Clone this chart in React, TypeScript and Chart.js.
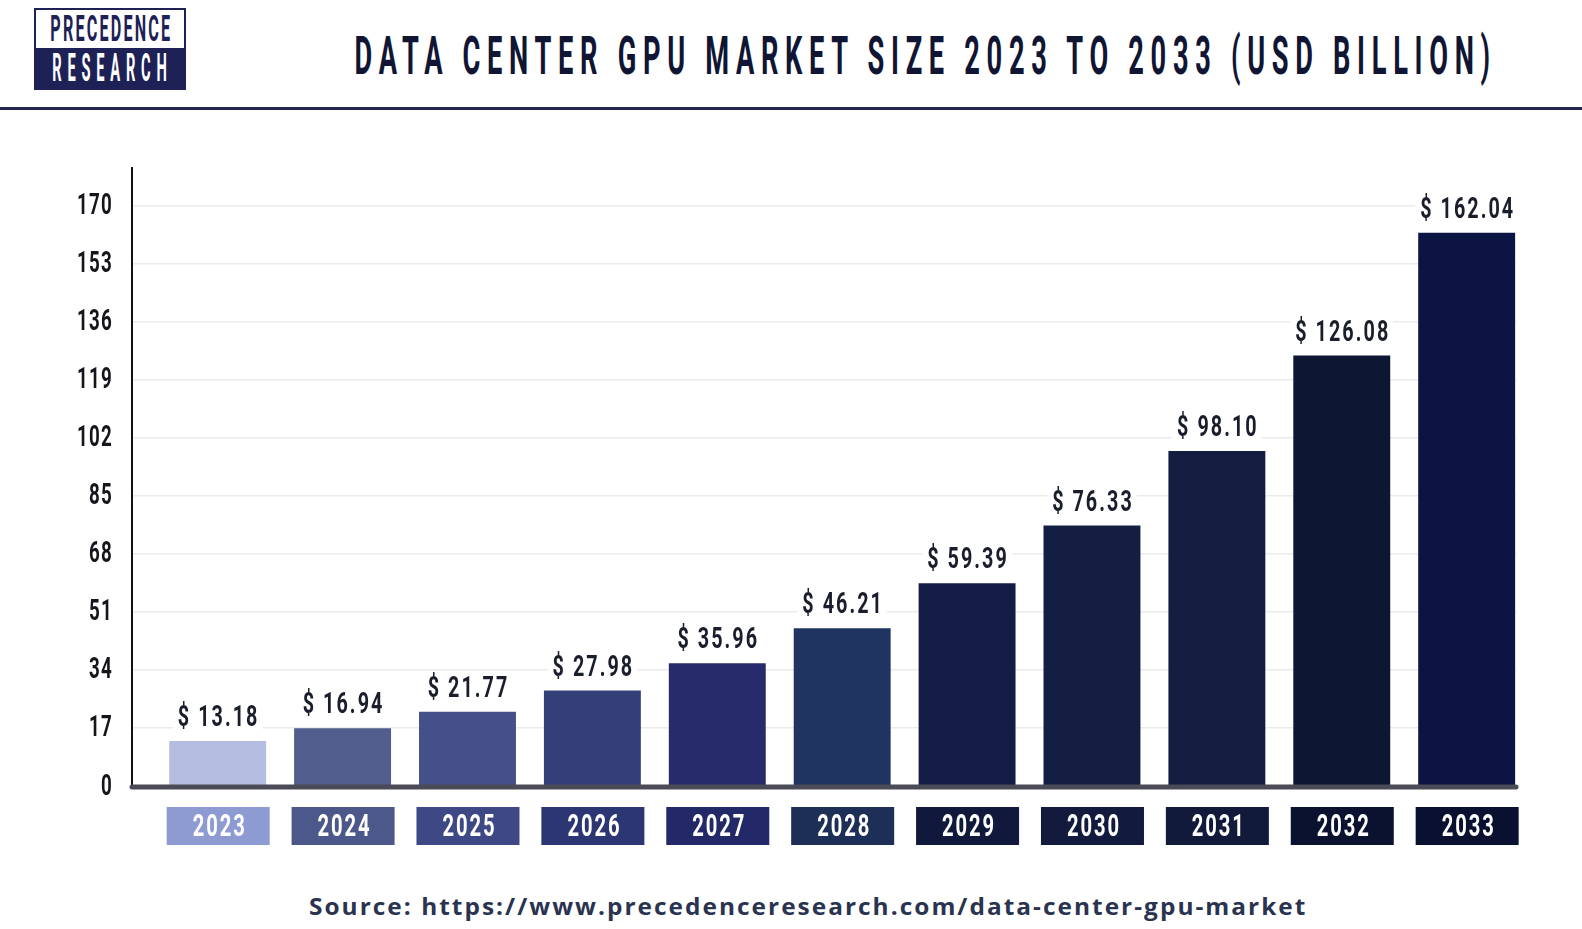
import { useEffect, useLayoutEffect, useRef } from 'react';
import { Chart, registerables } from 'chart.js';

Chart.register(...registerables);

const years = ['2023', '2024', '2025', '2026', '2027', '2028', '2029', '2030', '2031', '2032', '2033'];
const marketSize = [13.18, 16.94, 21.77, 27.98, 35.96, 46.21, 59.39, 76.33, 98.1, 126.08, 162.04];
const yTicks = [0, 17, 34, 51, 68, 85, 102, 119, 136, 153, 170];

const barColors = ['#b5bee0', '#505d8d', '#454f8a', '#343f7a', '#272a6b', '#1f3460', '#131c45', '#141e42', '#131d40', '#0d1633', '#0b1442'];
const boxColors = ['#8e9bd2', '#4c5889', '#3d4885', '#2c3673', '#232869', '#1d2f57', '#10193c', '#121b3e', '#121a3b', '#0b1230', '#0a1130'];

const FONT = 'Roboto, "Liberation Sans", sans-serif';

// draws text squeezed horizontally, standing in for the condensed face of the original
function squeezed(ctx: CanvasRenderingContext2D, text: string, x: number, y: number, scale: number) {
  ctx.save();
  ctx.translate(x, y);
  ctx.scale(scale, 1);
  ctx.fillText(text, 0, 0);
  ctx.restore();
}

const labelsPlugin = {
  id: 'labelsPlugin',
  afterDatasetsDraw(chart: any) {
    const { ctx, chartArea, scales } = chart;
    ctx.save();
    ctx.textBaseline = 'middle';

    // y tick labels
    ctx.font = `bold 30px ${FONT}`;
    ctx.letterSpacing = '2px';
    const sy = 36 / ctx.measureText('170').width;
    ctx.fillStyle = '#15151c';
    ctx.textAlign = 'right';
    scales.y.ticks.forEach((t: any) => {
      squeezed(ctx, String(t.value), chartArea.left - 19, scales.y.getPixelForValue(t.value) + 1, sy);
    });
    ctx.textAlign = 'center';

    // baseline
    ctx.strokeStyle = '#4a4b56';
    ctx.lineWidth = 5;
    ctx.lineCap = 'round';
    ctx.beginPath();
    ctx.moveTo(chartArea.left, chartArea.bottom + 1);
    ctx.lineTo(chartArea.right, chartArea.bottom + 1);
    ctx.stroke();

    // value labels
    const meta = chart.getDatasetMeta(0);
    ctx.font = `bold 29px ${FONT}`;
    ctx.letterSpacing = '3px';
    const sv = 95 / ctx.measureText('$ 162.04').width;
    meta.data.forEach((bar: any, i: number) => {
      const text = '$ ' + marketSize[i].toFixed(2);
      const w = ctx.measureText(text).width * sv;
      const y = bar.y - 23;
      ctx.fillStyle = '#ffffff';
      ctx.fillRect(bar.x - w / 2 - 4, y - 15, w + 8, 30);
      ctx.fillStyle = '#1a1e2c';
      squeezed(ctx, text, bar.x + 1, y + 1, sv);
    });

    // year boxes
    ctx.font = `bold 32px ${FONT}`;
    ctx.letterSpacing = '3px';
    const sx = 54 / ctx.measureText('2023').width;
    const top = chartArea.bottom + 21;
    years.forEach((yr, i) => {
      const cx = scales.x.getPixelForValue(i);
      ctx.fillStyle = boxColors[i];
      ctx.fillRect(cx - 51, top, 103, 38);
      ctx.fillStyle = '#ffffff';
      squeezed(ctx, yr, cx + 2, top + 21, sx);
    });
    ctx.restore();
  },
};

function BarChart() {
  const canvasRef = useRef<HTMLCanvasElement>(null);
  const chartRef = useRef<Chart | null>(null);

  useEffect(() => {
    if (!canvasRef.current) return;
    if (chartRef.current) chartRef.current.destroy();
    const ctx = canvasRef.current.getContext('2d');
    if (!ctx) return;

    chartRef.current = new Chart(ctx, {
      type: 'bar',
      data: {
        labels: years,
        datasets: [
          {
            data: marketSize.map((v, i) => ({ x: i, y: v })),
            backgroundColor: barColors,
            borderWidth: 0,
            barPercentage: 0.776,
            categoryPercentage: 1,
          },
        ],
      },
      options: {
        responsive: true,
        maintainAspectRatio: false,
        animation: false,
        layout: { padding: { top: 58, right: 66, left: 0, bottom: 0 } },
        plugins: {
          legend: { display: false },
          tooltip: { enabled: false },
          title: { display: false },
        },
        scales: {
          x: {
            type: 'linear',
            offset: false,
            min: -0.686,
            max: 10.395,
            afterBuildTicks: (s: any) => {
              s.ticks = years.map((_, i) => ({ value: i }));
            },
            grid: { display: false, drawTicks: false },
            border: { display: false },
            ticks: { display: false },
            afterFit: (s: any) => {
              s.height = 84;
            },
          },
          y: {
            min: 0,
            max: 181,
            afterFit: (s: any) => {
              s.width = 132;
            },
            afterBuildTicks: (s: any) => {
              s.ticks = yTicks.map((v) => ({ value: v }));
            },
            grid: { color: '#ebebeb', lineWidth: 1.5, drawTicks: false },
            border: { display: true, color: '#111111', width: 2 },
            ticks: { display: false },
          },
        },
      },
      plugins: [labelsPlugin],
    });

    return () => {
      if (chartRef.current) {
        chartRef.current.destroy();
        chartRef.current = null;
      }
    };
  }, []);

  return <canvas ref={canvasRef} />;
}

// text squeezed to a given width, like the condensed face of the original
function FitText({ text, width, style }: { text: string; width: number; style: React.CSSProperties }) {
  const ref = useRef<HTMLSpanElement>(null);
  useLayoutEffect(() => {
    const el = ref.current;
    if (!el) return;
    el.style.transform = 'none';
    const w = el.offsetWidth;
    el.style.transform = `scaleX(${width / w})`;
  }, [text, width]);
  return (
    <span ref={ref} style={{ display: 'inline-block', whiteSpace: 'nowrap', transformOrigin: 'center', ...style }}>
      {text}
    </span>
  );
}

export default function App() {
  return (
    <div style={{ position: 'absolute', left: 0, top: 0, width: 1582, height: 929, background: '#ffffff', overflow: 'hidden' }}>
      {/* logo */}
      <div style={{ position: 'absolute', left: 34, top: 8, width: 148, height: 78, border: '2px solid #1d2156', background: '#ffffff' }}>
        <div style={{ height: 38, display: 'flex', alignItems: 'center', justifyContent: 'center' }}>
          <FitText text="PRECEDENCE" width={124} style={{ font: `bold 37px ${FONT}`, color: '#1d2156', letterSpacing: 5, lineHeight: '36px', paddingLeft: 5 }} />
        </div>
        <div style={{ height: 40, background: '#1d2156', display: 'flex', alignItems: 'center', justifyContent: 'center' }}>
          <FitText text="RESEARCH" width={126} style={{ font: `bold 38px ${FONT}`, color: '#ffffff', letterSpacing: 15, lineHeight: '38px', paddingLeft: 15 }} />
        </div>
      </div>
      {/* title */}
      <div style={{ position: 'absolute', left: 0, top: 28, width: 1852, display: 'flex', justifyContent: 'center' }}>
        <FitText
          text="DATA CENTER GPU MARKET SIZE 2023 TO 2033 (USD BILLION)"
          width={1142}
          style={{ font: `bold 53px ${FONT}`, lineHeight: '56px', letterSpacing: 13, color: '#101534' }}
        />
      </div>
      <div style={{ position: 'absolute', left: 0, top: 107, width: 1582, height: 3, background: '#23264f' }} />
      {/* chart */}
      <div style={{ position: 'absolute', left: 0, top: 110, width: 1582, height: 760 }}>
        <BarChart />
      </div>
      {/* source */}
      <div style={{ position: 'absolute', left: 0, top: 892, width: 1616, display: 'flex', justifyContent: 'center' }}>
        <FitText
          text="Source: https://www.precedenceresearch.com/data-center-gpu-market"
          width={998}
          style={{ font: 'bold 24px "Open Sans", sans-serif', lineHeight: '28px', letterSpacing: 2, color: '#2a3350' }}
        />
      </div>
    </div>
  );
}
